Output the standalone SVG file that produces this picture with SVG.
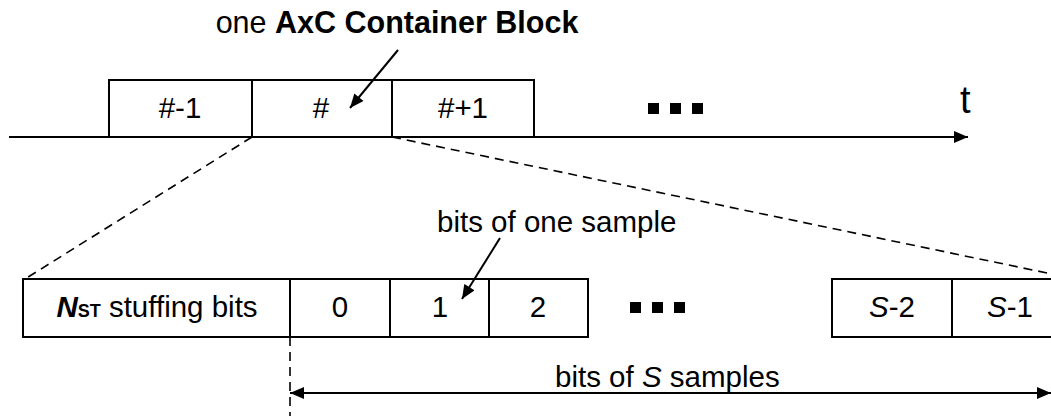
<svg xmlns="http://www.w3.org/2000/svg" width="1051" height="416" viewBox="0 0 1051 416">
<defs>
<style>
text{font-family:"Liberation Sans",Arial,sans-serif;font-size:29.5px;fill:#000}
.box{fill:#fff;stroke:#000;stroke-width:2}
.ln{stroke:#000;stroke-width:2;fill:none}
.dash{stroke:#000;stroke-width:1.6;fill:none;stroke-dasharray:9 6}
.c{text-anchor:middle}
</style>
<marker id="big" viewBox="0 0 14 12" refX="14" refY="6" markerWidth="15" markerHeight="12" markerUnits="userSpaceOnUse" orient="auto-start-reverse">
<path d="M0,0 L14,6 L0,12 z" fill="#000"/>
</marker>
</defs>
<g id="title"><text x="397" y="33" class="c" style="font-size:30.5px">one <tspan font-weight="bold">AxC Container Block</tspan></text></g>
<g id="t-label"><text x="960" y="113" style="font-size:38px">t</text></g>
<g id="blk-m1"><rect class="box" x="109" y="80" width="143" height="57"/><text x="180" y="118" class="c">#-1</text></g>
<g id="blk-0"><rect class="box" x="252" y="80" width="140" height="57"/><text x="321" y="118" class="c">#</text></g>
<g id="blk-p1"><rect class="box" x="392" y="80" width="142" height="57"/><text x="463" y="118" class="c">#+1</text></g>
<g id="dots-top"><rect x="648" y="103" width="11" height="11"/><rect x="670" y="103" width="11" height="11"/><rect x="692" y="103" width="11" height="11"/></g>
<g id="lbl-sample"><text x="437" y="232">bits of one sample</text></g>
<g id="stuff"><rect class="box" x="23" y="279" width="267" height="58"/><text x="157" y="317" class="c"><tspan font-weight="bold" font-style="italic">N</tspan><tspan font-weight="bold" font-size="18px">ST</tspan> stuffing bits</text></g>
<g id="s0"><rect class="box" x="290" y="279" width="100" height="58"/><text x="340" y="317" class="c">0</text></g>
<g id="s1"><rect class="box" x="390" y="279" width="99" height="58"/><text x="440" y="317" class="c">1</text></g>
<g id="s2"><rect class="box" x="489" y="279" width="99" height="58"/><text x="538" y="317" class="c">2</text></g>
<g id="dots-bot"><rect x="630" y="302" width="11" height="11"/><rect x="652" y="302" width="11" height="11"/><rect x="674" y="302" width="11" height="11"/></g>
<g id="sS2"><rect class="box" x="832" y="279" width="120" height="58"/><text x="892" y="317" class="c"><tspan font-style="italic">S</tspan>-2</text></g>
<g id="sS1"><rect class="box" x="952" y="279" width="120" height="58"/><text x="1010" y="317" class="c"><tspan font-style="italic">S</tspan>-1</text></g>
<g id="lbl-S"><text x="555" y="387">bits of <tspan font-style="italic">S</tspan> samples</text></g>
<g id="connectors">
<line class="ln" x1="9" y1="137" x2="968" y2="137" marker-end="url(#big)"/>
<line class="ln" x1="398" y1="50" x2="350" y2="108" marker-end="url(#big)"/>
<line class="ln" x1="500" y1="238" x2="462" y2="299" marker-end="url(#big)"/>
<line class="dash" x1="252" y1="137" x2="25" y2="279"/>
<line class="dash" x1="392" y1="137" x2="1076" y2="279"/>
<line class="dash" x1="290" y1="337" x2="290" y2="416"/>
<line class="ln" x1="290" y1="393" x2="1051" y2="393" marker-start="url(#big)" marker-end="url(#big)"/>
</g>
</svg>
